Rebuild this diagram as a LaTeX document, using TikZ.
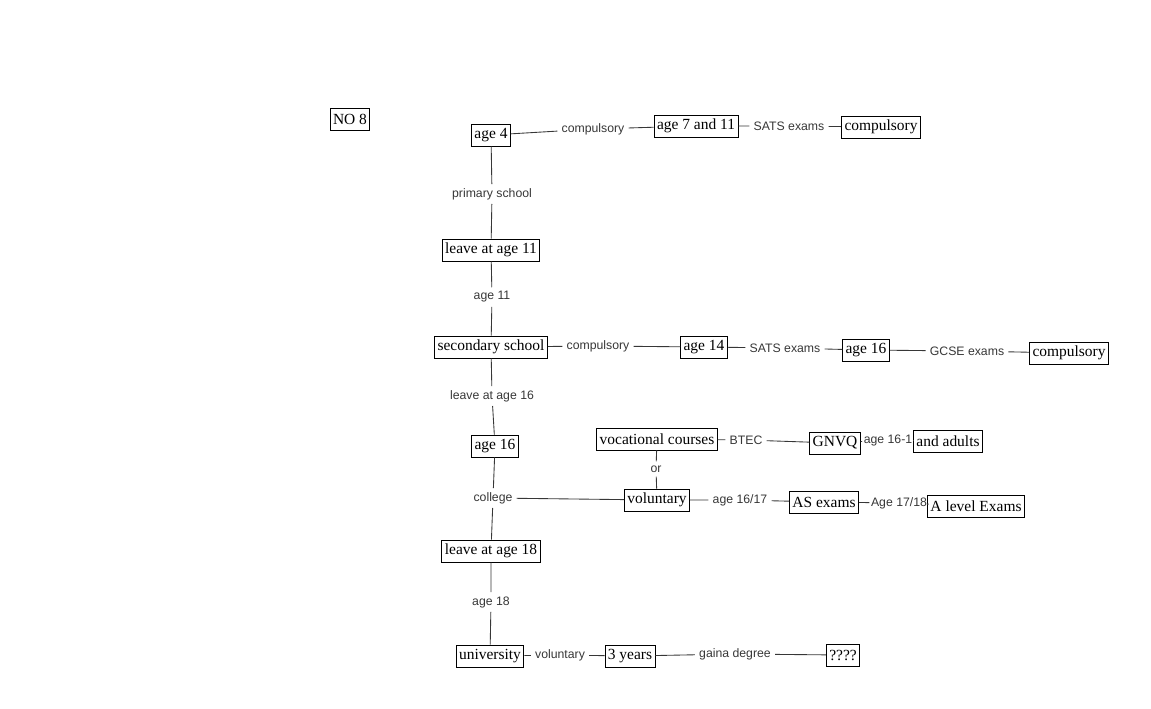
\documentclass[tikz,border=0pt]{standalone}
\usepackage{fontspec}
\setmainfont{Liberation Serif}
\newfontfamily\lblfont{Liberation Sans}
\usepackage{tikz}
\usetikzlibrary{positioning}
\definecolor{ink}{RGB}{55,55,55}
\tikzset{
  box/.style={draw,line width=0.65pt,font=\fontsize{11.6}{13}\selectfont,inner xsep=2.2pt,inner ysep=3pt,minimum height=16.5pt},
  lbl/.style={font=\lblfont\fontsize{9.2}{10}\selectfont,text=ink,inner xsep=3pt,inner ysep=3pt},
  ln/.style={draw=ink,line width=0.65pt}
}

\begin{document}
\begin{tikzpicture}[x=0.75pt,y=-0.75pt]
\useasboundingbox (0,0) rectangle (1151,708);
\node[box] (no8) at (350,119) {NO 8};
% top row
\node[box] (a4) at (491,135) {age 4};
\node[lbl] (c1) at (593,129) {compulsory};
\node[box] (a711) at (696,126) {age 7 and 11};
\node[lbl] (s1) at (789,126) {SATS exams};
\node[box] (cb1) at (881,127) {compulsory};
% main column
\node[lbl] (ps) at (492,194) {primary school};
\node[box] (l11) at (491,250) {leave at age 11};
\node[lbl] (a11) at (492,297) {age 11};
\node[box] (sec) at (491,347) {secondary school};
\node[lbl] (l16) at (492,396) {leave at age 16};
\node[box] (a16) at (495,446) {age 16};
\node[lbl] (col) at (493,498) {college};
\node[box] (l18) at (491,551) {leave at age 18};
\node[lbl] (a18) at (491,602) {age 18};
\node[box] (uni) at (490,656) {university};
% secondary row
\node[lbl] (c2) at (598,346) {compulsory};
\node[box] (a14) at (704,347) {age 14};
\node[lbl] (s2) at (785,348) {SATS exams};
\node[box] (a16r) at (866,350) {age 16};
\node[lbl] (gc) at (967,351) {GCSE exams};
\node[box] (cb3) at (1069,353) {compulsory};
% college branch
\node[box] (voc) at (657,439) {vocational courses};
\node[lbl] (bt) at (746,440) {BTEC};
\node[box] (gn) at (835,443) {GNVQ};
\node[lbl,inner xsep=1pt] (a161) at (888,440) {age 16-1};
\node[box] (adu) at (948,441) {and adults};
\node[lbl] (or) at (656,469) {or};
\node[box] (vol) at (657,500) {voluntary};
\node[lbl] (a1617) at (740,500) {age 16/17};
\node[box] (as) at (824,502) {AS exams};
\node[lbl,inner xsep=1pt] (a1718) at (899,503) {Age 17/18};
\node[box] (al) at (976,506) {A level Exams};
% university row
\node[lbl] (v2) at (560,655) {voluntary};
\node[box] (y3) at (630,656) {3 years};
\node[lbl] (gd) at (735,654) {gaina degree};
\node[box] (qq) at (843,655) {????};
\draw[ln] (a4) -- (c1) -- (a711) -- (s1) -- (cb1);
\draw[ln] (a4) -- (ps) -- (l11) -- (a11) -- (sec) -- (l16) -- (a16) -- (col) -- (l18) -- (a18) -- (uni);
\draw[ln] (sec) -- (c2) -- (a14) -- (s2) -- (a16r) -- (gc) -- (cb3);
\draw[ln] (col) -- (vol);
\draw[ln] (vol) -- (or) -- (voc);
\draw[ln] (voc) -- (bt) -- (gn) -- (a161) -- (adu);
\draw[ln] (vol) -- (a1617) -- (as) -- (a1718) -- (al);
\draw[ln] (uni) -- (v2) -- (y3) -- (gd) -- (qq);
\end{tikzpicture}
\end{document}
